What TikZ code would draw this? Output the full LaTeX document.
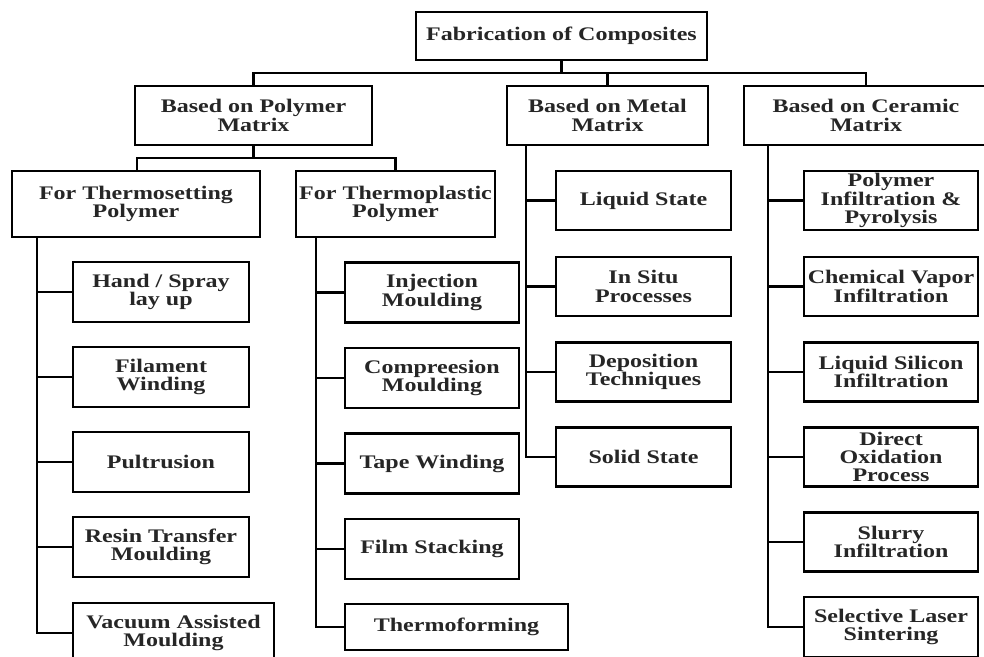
\documentclass[tikz,border=0pt]{standalone}
\usepackage{fontspec}
\setmainfont{Liberation Serif}[FakeStretch=1.25]
\begin{document}
\begin{tikzpicture}[x=1pt,y=-1pt,
  box/.style={draw=black, line width=2.6pt, rectangle, inner sep=0pt,
    align=center, font=\fontsize{19.2}{18.4}\selectfont\bfseries, text=black!85},
  link/.style={draw=black, line width=2.4pt}]
\useasboundingbox (0,0) rectangle (984,656);
\clip (0,0) rectangle (984,656);
\fill[white] (0,0) rectangle (984,656);

% top levels
\node[box, minimum width=291pt, minimum height=48pt] (root) at (561.5,36) {Fabrication of Composites};
\node[box, minimum width=237pt, minimum height=59pt] (poly) at (253.5,115.5) {Based on Polymer\\Matrix};
\node[box, minimum width=201pt, minimum height=59pt] (metal) at (607.5,115.5) {Based on Metal\\Matrix};
\node[box, minimum width=244pt, minimum height=59pt] (cera) at (866,115.5) {Based on Ceramic\\Matrix};
\node[box, minimum width=248pt, minimum height=66pt] (tset) at (136,204) {For Thermosetting\\Polymer};
\node[box, minimum width=199pt, minimum height=66pt] (tplas) at (395.5,204) {For Thermoplastic\\Polymer};

% thermosetting processes
\begin{scope}[every node/.style={box, minimum width=176pt, minimum height=60pt}]
\node (hand) at (161,292) {Hand / Spray\\lay up};
\node (fila) at (161,377) {Filament\\Winding};
\node (pult) at (161,462) {Pultrusion};
\node (resin) at (161,547) {Resin Transfer\\Moulding};
\node[minimum width=201pt] (vac) at (173.5,633) {Vacuum Assisted\\Moulding};
\end{scope}

% thermoplastic processes
\begin{scope}[every node/.style={box, minimum width=174pt, minimum height=60pt}]
\node (inj) at (432,292.5) {Injection\\Moulding};
\node (comp) at (432,378) {Compreesion\\Moulding};
\node (tape) at (432,463.5) {Tape Winding};
\node (film) at (432,549) {Film Stacking};
\node[minimum width=223pt, minimum height=46pt] (tform) at (456.5,627) {Thermoforming};
\end{scope}

% metal matrix processes
\begin{scope}[every node/.style={box, minimum width=175pt, minimum height=59pt}]
\node (liq) at (643.5,200.5) {Liquid State};
\node (insitu) at (643.5,286.5) {In Situ\\Processes};
\node (depo) at (643.5,372) {Deposition\\Techniques};
\node (solid) at (643.5,457) {Solid State};
\end{scope}

% ceramic matrix processes
\begin{scope}[every node/.style={box, minimum width=174pt, minimum height=59pt}]
\node (pip) at (891,200.5) {Polymer\\Infiltration \&\\Pyrolysis};
\node (cvi) at (891,286.5) {Chemical Vapor\\Infiltration};
\node (lsi) at (891,372) {Liquid Silicon\\Infiltration};
\node (dox) at (891,457) {Direct\\Oxidation\\Process};
\node (slur) at (891,542) {Slurry\\Infiltration};
\node[minimum height=60pt] (sls) at (891,627) {Selective Laser\\Sintering};
\end{scope}

% bus lines
\coordinate (rbus) at (561.5,73);
\coordinate (pbus) at (253.5,158);
\draw[link] (root.south) -- (rbus);
\draw[link] (poly.north) |- (rbus) -| (cera.north);
\draw[link] (metal.north) -- (metal.north |- rbus);
\draw[link] (poly.south) -- (pbus);
\draw[link] ([xshift=1pt]tset.north) |- (pbus) -| (tplas.north);

% trunks
\coordinate (tsetT) at (37,237);
\coordinate (tplasT) at (316,237);
\coordinate (metalT) at (526,145);
\coordinate (ceraT) at (768,145);
\draw[link] (tsetT) |- (vac.west);
\draw[link] (tplasT) |- (tform.west);
\draw[link] (metalT) |- (solid.west);
\draw[link] (ceraT) |- (sls.west);
\foreach \n in {hand,fila,pult,resin} \draw[link] (\n.west) -- (\n.west -| tsetT);
\foreach \n in {inj,comp,tape,film} \draw[link] (\n.west) -- (\n.west -| tplasT);
\foreach \n in {liq,insitu,depo} \draw[link] (\n.west) -- (\n.west -| metalT);
\foreach \n in {pip,cvi,lsi,dox,slur} \draw[link] (\n.west) -- (\n.west -| ceraT);
\end{tikzpicture}
\end{document}
